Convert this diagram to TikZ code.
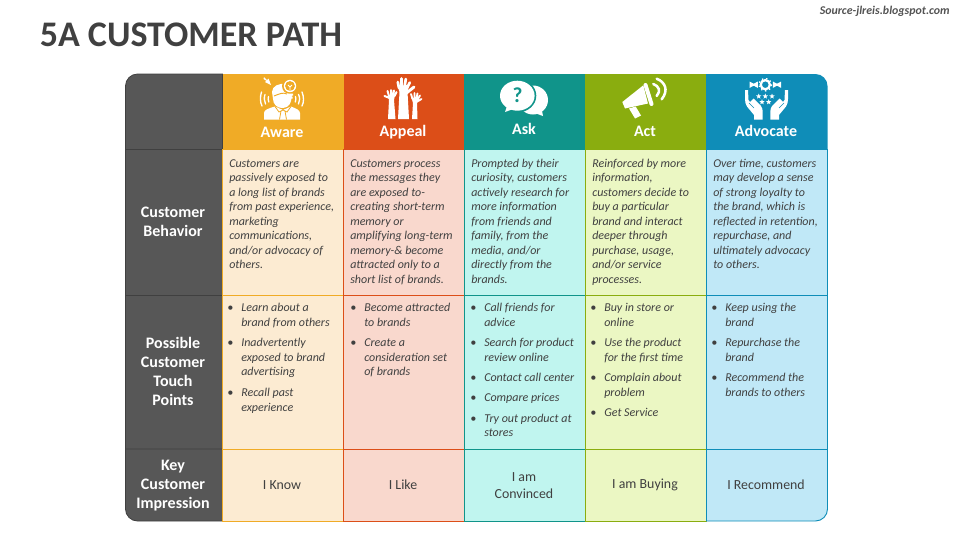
\documentclass[tikz,border=0pt]{standalone}
\usepackage{fontspec}
\setmainfont{Carlito}
\usetikzlibrary{shapes.geometric}
\definecolor{gr}{HTML}{575757}
\definecolor{grl}{HTML}{404040}
\definecolor{txt}{HTML}{404040}
\definecolor{ca}{HTML}{F0AB26}\definecolor{la}{HTML}{FCEBD2}
\definecolor{cb}{HTML}{DC4E18}\definecolor{lb}{HTML}{F9D8CD}
\definecolor{cc}{HTML}{10948A}\definecolor{lc}{HTML}{C0F5EF}
\definecolor{cd}{HTML}{8AAD0F}\definecolor{ld}{HTML}{EBF7C3}
\definecolor{ce}{HTML}{0F8DB8}\definecolor{le}{HTML}{C0E8F7}
\tikzset{
 x=0.75pt,y=-0.75pt,
 para/.style={anchor=north west,inner sep=0pt,align=left,text=txt,font=\fontsize{9}{10.9}\selectfont\itshape},
 item/.style={para},
 imp/.style={anchor=center,inner sep=0pt,align=center,text=txt,font=\fontsize{10.4}{12.8}\selectfont},
 rowh/.style={anchor=center,inner sep=0pt,align=center,text=white,font=\fontsize{12}{14.3}\selectfont\bfseries},
 colh/.style={anchor=center,inner sep=0pt,text=white,font=\fontsize{12}{14}\selectfont\bfseries},
 wave/.style={draw=white,line width=1pt,line cap=round},
 finger/.style={draw=white,line cap=round},
 starshape/.style={star,star points=5,star point ratio=2.3,fill=white,inner sep=0pt,minimum size=4.2pt},
}
\newcommand{\st}{\rule{0pt}{7pt}}
\newcommand{\bu}{\st\llap{•\hspace{6pt}}}
\newcommand{\advhand}{%
 \fill[white] (745,90) -- (748,90) -- (748.5,100) -- (750,102) -- (753.5,98.5) -- (761,106) .. controls (762.5,108) and (762.7,110) .. (762.7,113) -- (762.7,119.5) -- (754,119.5) -- (754,115) -- (747,106.5) .. controls (745.5,104) and (745,102) .. (745,99) -- cycle;
 \draw[ce,line width=.5pt] (749,103) -- (754,108);}
\begin{document}
\begin{tikzpicture}
\useasboundingbox (0,0) rectangle (960,540);
% header & body cells
\fill[gr,draw=grl,line width=.6pt] (222.5,149.5) -- (222.5,74) [rounded corners=9pt] -- (125.5,74) [rounded corners=0pt] -- (125.5,149.5) -- cycle;
\draw[fill=gr,draw=grl,line width=.6pt] (125.5,149.5) rectangle (222.5,295);
\draw[fill=gr,draw=grl,line width=.6pt] (125.5,295) rectangle (222.5,449);
\draw[fill=gr,draw=grl,line width=.6pt] (222.5,449) -- (222.5,521) [rounded corners=9pt] -- (125.5,521) [rounded corners=0pt] -- (125.5,449) -- cycle;
\fill[ca] (222.5,74) rectangle (343.5,149.5);
\fill[cb] (343.5,74) rectangle (464,149.5);
\fill[cc] (464,74) rectangle (585,149.5);
\fill[cd] (585,74) rectangle (706,149.5);
\fill[ce] (706,149.5) -- (706,74) [rounded corners=9pt] -- (827.5,74) [rounded corners=0pt] -- (827.5,149.5) -- cycle;
\foreach \a/\b/\f/\l in {222.5/343.5/ca/la,343.5/464/cb/lb,464/585/cc/lc,585/706/cd/ld}{
 \draw[fill=\l,draw=\f,line width=.7pt] (\a,149.5) rectangle (\b,295);
 \draw[fill=\l,draw=\f,line width=.7pt] (\a,295) rectangle (\b,449);
 \draw[fill=\l,draw=\f,line width=.7pt] (\a,449) rectangle (\b,521);
}
\draw[fill=le,draw=ce,line width=.7pt] (706.5,149.5) rectangle (827.5,295);
\draw[fill=le,draw=ce,line width=.7pt] (706.5,295) rectangle (827.5,449.5);
\draw[fill=le,draw=ce,line width=.7pt] (827.5,449.5) -- (706.5,449.5) -- (706.5,521) [rounded corners=9pt] -- (827.5,521) [rounded corners=0pt] -- cycle;
% title
\node[anchor=west,inner sep=0pt,text=txt,font=\fontsize{27}{30}\selectfont\bfseries] (title) at (39.5,35) {5A CUSTOMER PATH};
\node[anchor=east,inner sep=0pt,text=txt!90,font=\fontsize{8.9}{10}\selectfont\bfseries\itshape] (src) at (950,11) {Source-jlreis.blogspot.com};
% ICON aware
\fill[white] (264,119.5) -- (264,113) .. controls (264,110) and (268,108.5) .. (275,106.5) -- (283,110) -- (291,106.5) .. controls (296,108.5) and (300,110) .. (300,113) -- (300,119.5) -- cycle;
\draw[ca,line width=.6pt] (275,106.5) -- (279,112) -- (283,110) -- (287,112) -- (291,106.5) (281,111) -- (279.5,119.5) (285,111) -- (286.5,119.5);
\fill[white] (272,92) .. controls (272,86) and (279,83) .. (286,84) -- (292,95) -- (291,101) .. controls (290,106) and (286,108) .. (282,108) .. controls (277,108) and (273,104) .. (273,99) -- cycle;
\draw[ca,line width=.7pt] (274,96) .. controls (279,94) and (283,92) .. (287,94);
\fill[ca] (290,86) circle[radius=8];
\fill[white] (290,86) circle[radius=6.2];
\fill[ca] (290,86) circle[radius=4.9];
\draw[white,line width=.6pt] (288,85) -- (290,87) -- (292,85) (290,87) -- (290,91);
\fill[white] (287,93.5) rectangle (293,95.5) (287.5,96.5) rectangle (292.5,98.5);
\draw[wave] (261.5,92) .. controls (260,97) and (260,102) .. (262,106);
\draw[wave] (265,94.5) .. controls (264,97) and (264,101) .. (265.5,104);
\draw[wave] (268.5,96.5) .. controls (268,98) and (268,100) .. (268.8,102);
\draw[wave] (302,92) .. controls (304,97) and (304,102) .. (302,106);
\draw[wave] (298.5,94.5) .. controls (300,97) and (300,101) .. (298.5,104);
\draw[wave] (295.5,96.5) .. controls (296,98) and (296,100) .. (295.3,102);
\fill[white] (264,77) -- (267,80) -- (268.5,78.5) -- (271,85) -- (265,82) -- (266.5,80.8) -- (263.5,79) -- cycle;
% ICON appeal
\fill[white] (398,119) -- (399.5,92) -- (397.5,86) -- (409,85) -- (407.5,92) -- (409,119) -- cycle;
\draw[finger,line width=2pt] (399,88) -- (397.8,82) (401.5,87) -- (401.5,78.5) (404.5,87) -- (405.8,79) (407,88) -- (409.8,82.5);
\draw[finger,line width=2.2pt] (406.5,93) -- (414,87);
\fill[white] (388,119) -- (389,100) -- (388,95) -- (395,95) -- (394,100) -- (395.5,119) -- cycle;
\draw[finger,line width=1.5pt] (389,96) -- (387.5,91) (391,95) -- (391,90) (393,95) -- (394,90.5) (394.5,96) -- (396.5,92) (389.5,98) -- (384.5,96);
\fill[white] (412,119) -- (413,103) -- (411.5,98) -- (418.5,98) -- (417,103) -- (417.5,119) -- cycle;
\draw[finger,line width=1.4pt] (412.5,99) -- (411,94) (414.5,98) -- (414.5,93) (416.5,98) -- (417.5,93.5) (417.8,99) -- (420,95.5) (416.5,102) -- (421.5,99);
% ICON ask
\fill[white] (533,100) ellipse[x radius=15,y radius=14.5];
\fill[white] (532,112) -- (543,116) -- (541,106) -- cycle;
\fill[cc] (517.3,95.7) ellipse[x radius=19,y radius=16.8];
\fill[cc] (504,115) -- (522,110) -- (510,104) -- cycle;
\fill[white] (517.3,95.7) ellipse[x radius=17.3,y radius=15];
\fill[white] (505,112) -- (516,108) -- (508,103) -- cycle;
\node[inner sep=0pt,text=cc,font=\fontsize{16}{16}\selectfont\bfseries] (q) at (517.5,95) {?};
% ICON act
\fill[white] (622.3,102) -- (643.3,85.3) -- (648,103.5) -- (625,108.5) -- cycle;
\draw[white,line width=3pt,line cap=round] (645.5,85) -- (651.5,104);
\fill[white] (629,108.5) -- (635,118.5) -- (641,115.5) -- (635.7,106.5) -- cycle;
\draw[white,line width=1.9pt,line cap=round] (656.7,78.7) .. controls (665,82) and (669,90) .. (661.7,99.3);
\draw[white,line width=1.9pt,line cap=round] (653.3,84) .. controls (659,86) and (661,91) .. (656.7,96);
% ICON advocate
\draw[white,line width=1.7pt] (765.3,84.7) circle[radius=4.6];
\draw[white,line width=1pt,dash pattern=on 1pt off 2.2pt] (765.3,84.7) circle[radius=6.2];
\fill[white] (749.5,81.5) -- (753.7,83.7) -- (757.9,81.5) -- (757.9,87.9) -- (753.7,85.7) -- (749.5,87.9) -- cycle;
\fill[white] (772.8,81.5) -- (777,83.7) -- (781.2,81.5) -- (781.2,87.9) -- (777,85.7) -- (772.8,87.9) -- cycle;
\foreach \n/\sx/\sy in {s1/758.7/96.3,s2/765.3/96.3,s3/772/96.3,s4/762/102,s5/768.7/102}{
 \node[starshape] (\n) at (\sx,\sy) {};
}
\advhand
\begin{scope}[shift={(1533,0)},xscale=-1]
\advhand
\end{scope}
% column heads
\node[colh] (h1) at (282,132) {Aware};
\node[colh] (h2) at (403,132) {Appeal};
\node[colh] (h3) at (524,128.5) {Ask};
\node[colh] (h4) at (645,131) {Act};
\node[colh] (h5) at (766,131) {Advocate};
% row heads
\node[rowh] (r1) at (173,221.5) {Customer\\Behavior};
\node[rowh] (r2) at (173,371.5) {Possible\\Customer\\Touch\\Points};
\node[rowh] (r3) at (173,485.5) {Key\\Customer\\Impression};
% behaviour
\node[para] (p1) at (229,157.6) {\st Customers are\\passively exposed to\\a long list of brands\\from past experience,\\marketing\\communications,\\and/or advocacy of\\others.};
\node[para] (p2) at (350,157.6) {\st Customers process\\the messages they\\are exposed to-\\creating short-term\\memory or\\amplifying long-term\\memory-\& become\\attracted only to a\\short list of brands.};
\node[para] (p3) at (471,157.6) {\st Prompted by their\\curiosity, customers\\actively research for\\more information\\from friends and\\family, from the\\media, and/or\\directly from the\\brands.};
\node[para] (p4) at (592,157.6) {\st Reinforced by more\\information,\\customers decide to\\buy a particular\\brand and interact\\deeper through\\purchase, usage,\\and/or service\\processes.};
\node[para] (p5) at (713,157.6) {\st Over time, customers\\may develop a sense\\of strong loyalty to\\the brand, which is\\reflected in retention,\\repurchase, and\\ultimately advocacy\\to others.};
% touch points
\node[item] (a1) at (241,302) {\bu Learn about a\\brand from others};
\node[item] (a2) at (241,337) {\bu Inadvertently\\exposed to brand\\advertising};
\node[item] (a3) at (241,387) {\bu Recall past\\experience};
\node[item] (b1) at (364,302) {\bu Become attracted\\to brands};
\node[item] (b2) at (364,337) {\bu Create a\\consideration set\\of brands};
\node[item] (c1) at (484,302) {\bu Call friends for\\advice};
\node[item] (c2) at (484,337) {\bu Search for product\\review online};
\node[item] (c3) at (484,372) {\bu Contact call center};
\node[item] (c4) at (484,392) {\bu Compare prices};
\node[item] (c5) at (484,412.5) {\bu Try out product at\\stores};
\node[item] (d1) at (604,302) {\bu Buy in store or\\online};
\node[item] (d2) at (604,337) {\bu Use the product\\for the first time};
\node[item] (d3) at (604,372) {\bu Complain about\\problem};
\node[item] (d4) at (604,407) {\bu Get Service};
\node[item] (e1) at (725,302) {\bu Keep using the\\brand};
\node[item] (e2) at (725,337) {\bu Repurchase the\\brand};
\node[item] (e3) at (725,372) {\bu Recommend the\\brands to others};
% impression
\node[imp] (i1) at (282,485) {I Know};
\node[imp] (i2) at (403,485) {I Like};
\node[imp] (i3) at (524,485.5) {I am\\Convinced};
\node[imp] (i4) at (645,485) {I am Buying};
\node[imp] (i5) at (766,485) {I Recommend};
\end{tikzpicture}
\end{document}
